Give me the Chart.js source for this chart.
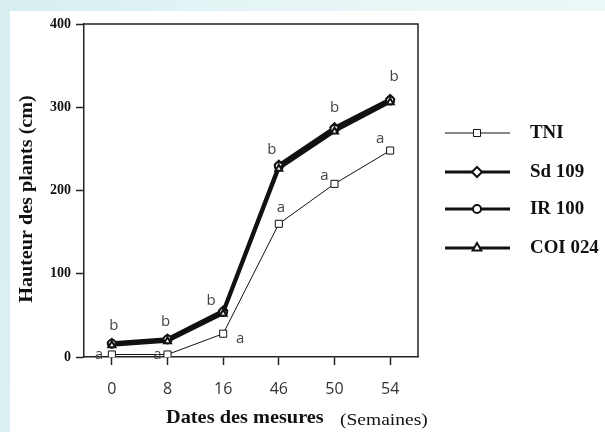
<!DOCTYPE html>
<html>
<head>
<meta charset="utf-8">
<script src="https://cdn.jsdelivr.net/npm/chart.js@4/dist/chart.umd.min.js"></script>
<style>
  html, body { margin: 0; padding: 0; }
  body { width: 605px; height: 432px; overflow: hidden;
    background: linear-gradient(100deg, #d6eef0 0%, #e6f5f6 40%, #eef8f8 100%); }
  canvas { display: block; }
</style>
</head>
<body>
<canvas id="myCanvas" width="605" height="432"></canvas>
<script>
// weeks of measurement
var semaines = ["0", "8", "16", "46", "50", "54"];

// plant height (cm)
var tni    = [3, 3, 28, 160, 208, 248];
var sd109  = [17, 22, 56, 231, 276, 310];
var ir100  = [16, 21, 54, 229, 274, 308];
var coi024 = [14, 19, 52, 226, 271, 306];

var yTicks = [0, 100, 200, 300, 400];

// significance letters: [category, value, letter, dx, dy]
var lettres = [
  ["0", 3, "a", -13, 0], ["0", 17, "b", 2, -17],
  ["8", 3, "a", -10, 0], ["8", 22, "b", -2, -17],
  ["16", 28, "a", 17, 5], ["16", 56, "b", -12, -10],
  ["46", 160, "a", 2, -16], ["46", 231, "b", -7, -15],
  ["50", 208, "a", -10, -8], ["50", 276, "b", 0, -19],
  ["54", 248, "a", -10, -12], ["54", 310, "b", 4, -22]
];

var legendItems = [
  { label: "TNI", style: "rect", width: 1, radius: 5 },
  { label: "Sd 109", style: "rectRot", width: 3, radius: 5 },
  { label: "IR 100", style: "circle", width: 3, radius: 4 },
  { label: "COI 024", style: "triangle", width: 3, radius: 5 }
];

var serif = "'Liberation Serif', 'Times New Roman', serif";

// text stretched horizontally, like the scanned figure
function wideText(ctx, txt, x, y, sx) {
  ctx.save();
  ctx.translate(x, y);
  ctx.scale(sx, 1);
  ctx.fillText(txt, 0, 0);
  ctx.restore();
}

var decorPlugin = {
  id: "decor",
  beforeDraw: function (chart) {
    var ctx = chart.ctx;
    ctx.save();
    ctx.fillStyle = "#ffffff";
    ctx.fillRect(10, 11, chart.width - 10, chart.height - 11);
    ctx.restore();
  },
  afterDraw: function (chart) {
    var ctx = chart.ctx;
    var a = chart.chartArea;
    var x = chart.scales.x, y = chart.scales.y;

    // frame
    ctx.save();
    ctx.strokeStyle = "#222";
    ctx.lineWidth = 1.5;
    ctx.beginPath();
    ctx.moveTo(a.left, a.top);
    ctx.lineTo(a.right, a.top);
    ctx.lineTo(a.right, a.bottom);
    ctx.stroke();
    ctx.restore();

    // letters
    ctx.save();
    ctx.fillStyle = "#444";
    ctx.font = "15px 'Open Sans', 'Liberation Sans', sans-serif";
    ctx.textAlign = "center";
    ctx.textBaseline = "middle";
    lettres.forEach(function (l) {
      var px = x.getPixelForValue(semaines.indexOf(l[0]));
      var py = y.getPixelForValue(l[1]);
      ctx.fillText(l[2], px + l[3], py + l[4]);
    });
    ctx.restore();

    // axis titles
    ctx.save();
    ctx.fillStyle = "#111";
    ctx.textBaseline = "middle";
    ctx.textAlign = "left";
    ctx.font = "bold 19px " + serif;
    wideText(ctx, "Dates des mesures", 166, 418, 1.07);
    ctx.font = "16px " + serif;
    wideText(ctx, "(Semaines)", 340, 421, 1.22);
    ctx.translate(27, 199);
    ctx.rotate(-Math.PI / 2);
    ctx.textAlign = "center";
    ctx.font = "bold 19px " + serif;
    wideText(ctx, "Hauteur des plants (cm)", 0, 0, 1.06);
    ctx.restore();

    // legend
    ctx.save();
    var ys = [133, 172, 209, 248];
    legendItems.forEach(function (it, i) {
      ctx.strokeStyle = "#111";
      ctx.lineWidth = it.width;
      ctx.beginPath();
      ctx.moveTo(445, ys[i]);
      ctx.lineTo(510, ys[i]);
      ctx.stroke();
      ctx.fillStyle = "#fff";
      ctx.lineWidth = it.width == 1 ? 1 : 2;
      Chart.helpers.drawPoint(ctx, { pointStyle: it.style, radius: it.radius, rotation: 0, borderWidth: ctx.lineWidth }, 477, ys[i]);
      ctx.fillStyle = "#111";
      ctx.font = "bold 18px " + serif;
      ctx.textBaseline = "middle";
      ctx.textAlign = "left";
      wideText(ctx, it.label, 530, ys[i], 1.05);
    });
    ctx.restore();
  }
};

function serie(label, data, width, style, radius) {
  return {
    label: label,
    data: data,
    borderColor: "#111",
    borderWidth: width,
    pointStyle: style,
    pointRadius: radius,
    pointBackgroundColor: "#fff",
    pointBorderColor: "#111",
    pointBorderWidth: width == 1 ? 1 : 2,
    tension: 0
  };
}

var chart = new Chart(document.getElementById("myCanvas"), {
  type: "line",
  data: {
    labels: semaines,
    datasets: [
      serie("COI 024", coi024, 3, "triangle", 4),
      serie("IR 100", ir100, 3, "circle", 4),
      serie("Sd 109", sd109, 3, "rectRot", 4),
      serie("TNI", tni, 1, "rect", 5)
    ]
  },
  options: {
    responsive: false,
    animation: false,
    layout: { padding: { left: 0, top: 24, right: 187, bottom: 0 } },
    plugins: { legend: { display: false }, tooltip: { enabled: false } },
    scales: {
      x: {
        offset: true,
        afterFit: function (s) { s.height = 75; },
        grid: { display: true, drawOnChartArea: false, offset: false, tickLength: 8, color: "#222", tickWidth: 1.5 },
        border: { color: "#222", width: 1.5 },
        ticks: { color: "#333", padding: 15, font: { family: "'Open Sans', 'Liberation Sans', sans-serif", size: 16 } }
      },
      y: {
        min: 0,
        max: 400,
        afterFit: function (s) { s.width = 84; },
        afterBuildTicks: function (s) { s.ticks = yTicks.map(function (v) { return { value: v }; }); },
        grid: { display: true, drawOnChartArea: false, tickLength: 8, color: "#222", tickWidth: 1.5 },
        border: { color: "#222", width: 1.5 },
        ticks: { color: "#111", padding: 5, font: { family: serif, size: 14, weight: "bold" } }
      }
    }
  },
  plugins: [decorPlugin]
});
</script>
</body>
</html>
